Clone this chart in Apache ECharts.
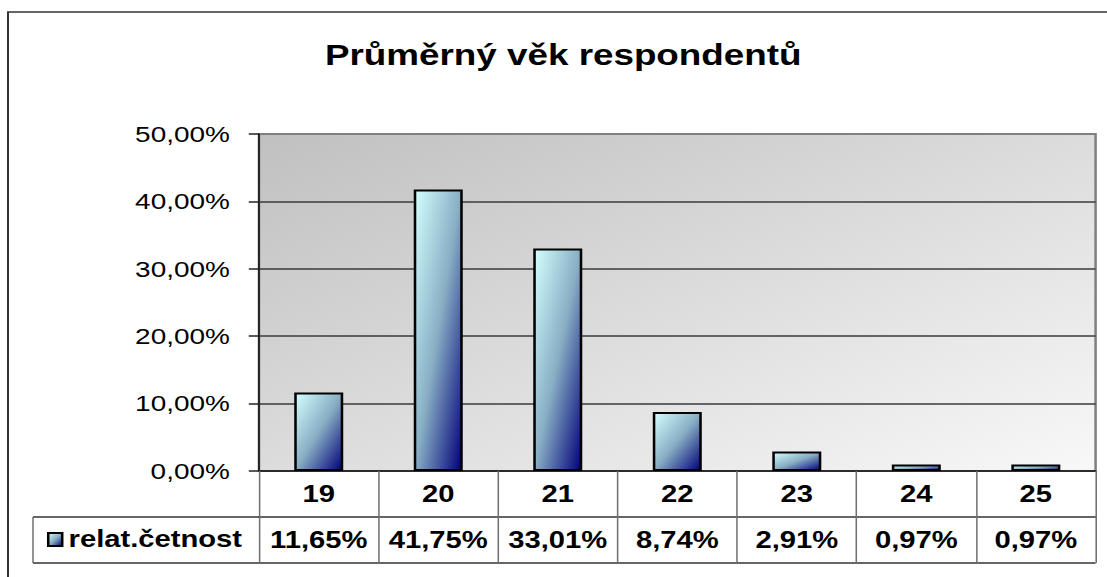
<!DOCTYPE html>
<html>
<head>
<meta charset="utf-8">
<title>Průměrný věk respondentů</title>
<style>
	html, body { margin: 0; padding: 0; background: #fff; overflow: hidden; }
	/* the reference picture is stretched sideways, so the chart is drawn narrower and scaled */
	#main { width: 872px; height: 577px; transform: scaleX(1.2695); transform-origin: 0 0; }
</style>
</head>
<body>
<div id="main"></div>
<script src="https://cdn.jsdelivr.net/npm/echarts@6/dist/echarts.min.js"></script>
<script>
var ages = ['19', '20', '21', '22', '23', '24', '25'];
var relat = [11.65, 41.75, 33.01, 8.74, 2.91, 0.97, 0.97];
var seriesName = 'relat.četnost';
var yTicks = [0, 10, 20, 30, 40, 50];

function pct(v) {
	return v.toFixed(2).replace('.', ',') + '%';
}

var font = 'Liberation Sans, Arial, sans-serif';
// layout in the unstretched 872px wide space
var W = 872, H = 577;
var gridL = 204, gridR = 863, gridT = 134, axisY = 471, rowH = 46, tableL = 26;

var chart = echarts.init(document.getElementById('main'), null, { renderer: 'svg' });

var option = {
	animation: false,
	title: {
		text: 'Průměrný věk respondentů',
		left: 251,
		top: 35,
		textStyle: { fontFamily: font, fontSize: 29, fontWeight: 'bold', color: '#000' }
	},
	legend: {
		data: [seriesName],
		left: 37,
		top: 528,
		padding: 0,
		icon: 'rect',
		itemWidth: 11,
		itemHeight: 13,
		textStyle: { fontFamily: font, fontSize: 23, fontWeight: 'bold', color: '#000' }
	},
	grid: {
		left: gridL,
		right: W - gridR,
		top: gridT,
		bottom: H - axisY,
		show: true,
		borderColor: '#808080',
		borderWidth: 2,
		backgroundColor: {
			type: 'linear', x: 0, y: 0, x2: 1, y2: 1,
			colorStops: [
				{ offset: 0, color: '#c0c0c0' },
				{ offset: 1, color: '#f8f8f8' }
			]
		}
	},
	xAxis: [
		{
			type: 'category',
			data: ages,
			position: 'bottom',
			axisLine: { lineStyle: { color: '#222', width: 1.5 } },
			axisTick: { show: true, inside: false, length: rowH * 2, interval: 0, alignWithLabel: false, lineStyle: { color: '#707070', width: 1.2 } },
			axisLabel: { interval: 0, margin: 12, fontFamily: font, fontSize: 23, fontWeight: 'bold', color: '#000', lineHeight: 23 }
		},
		{
			type: 'category',
			data: relat.map(pct),
			position: 'bottom',
			offset: rowH,
			axisLine: { show: true, lineStyle: { color: '#333', width: 1.5 } },
			axisTick: { show: false },
			axisLabel: { interval: 0, margin: 12, fontFamily: font, fontSize: 23, fontWeight: 'bold', color: '#000', lineHeight: 23 }
		}
	],
	yAxis: {
		type: 'value',
		min: yTicks[0],
		max: yTicks[yTicks.length - 1],
		interval: 10,
		axisLine: { show: true, lineStyle: { color: '#222', width: 1.5 } },
		axisTick: { show: true, length: 8, lineStyle: { color: '#222', width: 1.5 } },
		axisLabel: {
			margin: 23,
			fontFamily: font,
			fontSize: 22,
			color: '#000',
			formatter: function (v) { return pct(v); }
		},
		splitLine: { show: true, showMaxLine: false, lineStyle: { color: '#3a3a3a', width: 1.5 } }
	},
	series: [
		{
			name: seriesName,
			type: 'bar',
			xAxisIndex: 0,
			barWidth: '41%',
			data: relat,
			itemStyle: {
				borderColor: '#000',
				borderWidth: 2,
				color: {
					type: 'linear', x: 0, y: 0, x2: 1, y2: 1,
					colorStops: [
						{ offset: 0, color: '#d4ffff' },
						{ offset: 0.5, color: '#88aec4' },
						{ offset: 1, color: '#000078' }
					]
				}
			}
		}
	],
	graphic: [
		{
			type: 'rect', z: -10, silent: true,
			shape: { x: 6.3, y: 12, width: 1200, height: 700 },
			style: { fill: 'none', stroke: '#333', lineWidth: 1.6 }
		},
		{
			type: 'line', silent: true,
			shape: { x1: tableL, y1: axisY + rowH, x2: gridL, y2: axisY + rowH },
			style: { stroke: '#333', lineWidth: 1.5 }
		},
		{
			type: 'line', silent: true,
			shape: { x1: tableL, y1: axisY + rowH * 2, x2: gridR, y2: axisY + rowH * 2 },
			style: { stroke: '#333', lineWidth: 1.5 }
		},
		{
			type: 'line', silent: true,
			shape: { x1: tableL, y1: axisY + rowH, x2: tableL, y2: axisY + rowH * 2 },
			style: { stroke: '#707070', lineWidth: 1.2 }
		}
	]
};

chart.setOption(option);
</script>
</body>
</html>
